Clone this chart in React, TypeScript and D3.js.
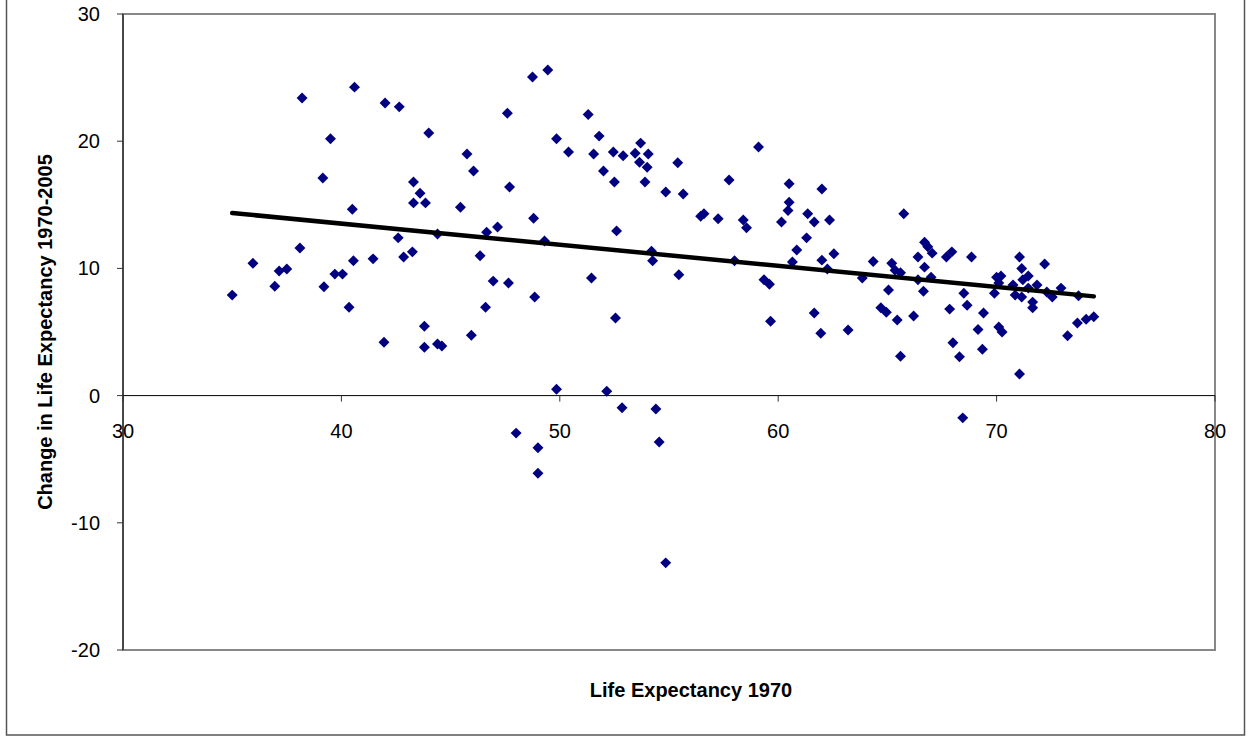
import React from "react";
import * as d3 from "d3";

// life expectancy in 1970 (x) and change 1970-2005 (y), one entry per country
const lifeExp1970 = [
  35.0, 35.95, 36.95, 37.15, 37.5, 38.1, 38.2, 39.15, 39.2, 39.5,
  39.7, 40.05, 40.35, 40.5, 40.55, 40.6, 41.45, 41.95, 42.0, 42.6,
  42.65, 42.85, 43.25, 43.3, 43.3, 43.6, 43.8, 43.8, 43.85, 44.0,
  44.4, 44.4, 44.6, 45.45, 45.75, 45.95, 46.05, 46.35, 46.6, 46.65,
  46.95, 47.15, 47.6, 47.65, 47.7, 48.0, 48.75, 48.8, 48.85, 49.0,
  49.0, 49.3, 49.45, 49.85, 49.85, 50.4, 51.3, 51.45, 51.55, 51.8,
  52.0, 52.15, 52.45, 52.5, 52.55, 52.6, 52.85, 52.9, 53.45, 53.65,
  53.7, 53.9, 54.0, 54.05, 54.2, 54.25, 54.4, 54.55, 54.85, 54.85,
  55.4, 55.45, 55.65, 56.45, 56.6, 57.25, 57.75, 58.0, 58.4, 58.55,
  59.1, 59.35, 59.6, 59.65, 60.15, 60.45, 60.5, 60.5, 60.65, 60.85,
  61.3, 61.35, 61.65, 61.65, 61.95, 62.0, 62.0, 62.25, 62.35, 62.55,
  63.2, 63.85, 64.35, 64.7, 64.95, 65.05, 65.2, 65.35, 65.45, 65.6,
  65.6, 65.75, 66.2, 66.4, 66.4, 66.65, 66.7, 66.7, 66.85, 67.0,
  67.05, 67.7, 67.85, 67.95, 68.0, 68.3, 68.45, 68.5, 68.65, 68.85,
  69.15, 69.35, 69.4, 69.9, 70.0, 70.1, 70.1, 70.2, 70.25, 70.75,
  70.85, 71.05, 71.05, 71.15, 71.15, 71.2, 71.45, 71.45, 71.65, 71.65,
  71.85, 72.2, 72.3, 72.55, 72.95, 73.25, 73.7, 73.75, 74.1, 74.45,
];
const lifeExpChange = [
  7.9, 10.4, 8.6, 9.8, 9.95, 11.6, 23.4, 17.1, 8.55, 20.2,
  9.55, 9.55, 6.95, 14.65, 10.6, 24.25, 10.75, 4.2, 23.0, 12.4,
  22.7, 10.9, 11.3, 16.8, 15.15, 15.9, 5.45, 3.8, 15.15, 20.65,
  4.05, 12.7, 3.9, 14.8, 19.0, 4.75, 17.65, 11.0, 6.95, 12.85,
  9.0, 13.25, 22.2, 8.85, 16.4, -2.95, 25.05, 13.95, 7.75, -4.1,
  -6.1, 12.15, 25.6, 20.2, 0.5, 19.15, 22.1, 9.25, 19.0, 20.4,
  17.65, 0.35, 19.15, 16.8, 6.1, 12.95, -0.95, 18.85, 19.05, 18.35,
  19.85, 16.8, 17.95, 19.0, 11.35, 10.6, -1.05, -3.65, 16.0, -13.15,
  18.3, 9.5, 15.85, 14.1, 14.3, 13.9, 16.95, 10.6, 13.8, 13.2,
  19.55, 9.1, 8.75, 5.85, 13.65, 14.55, 16.65, 15.2, 10.5, 11.45,
  12.4, 14.3, 13.65, 6.5, 4.9, 16.25, 10.65, 9.95, 13.8, 11.15,
  5.15, 9.25, 10.55, 6.9, 6.55, 8.3, 10.4, 9.85, 5.95, 9.65,
  3.1, 14.3, 6.25, 10.9, 9.1, 8.2, 12.05, 10.1, 11.7, 9.3,
  11.2, 10.9, 6.8, 11.3, 4.15, 3.05, -1.75, 8.05, 7.1, 10.9,
  5.2, 3.65, 6.5, 8.05, 9.3, 8.85, 5.4, 9.4, 5.0, 8.7,
  7.9, 1.7, 10.9, 10.0, 7.75, 9.1, 9.4, 8.45, 7.35, 6.9,
  8.7, 10.35, 8.15, 7.75, 8.45, 4.7, 5.7, 7.85, 6.0, 6.2,
];

const xTicks = [30, 40, 50, 60, 70, 80];
const yTicks = [-20, -10, 0, 10, 20, 30];

const W = 1251;
const H = 740;
const left = 123, right = 1215, top = 14, bottom = 650;
const font = "Arial, 'Liberation Sans', sans-serif";

export default function App() {
  const x = d3.scaleLinear().domain([30, 80]).range([left, right]);
  const y = d3.scaleLinear().domain([-20, 30]).range([bottom, top]);

  // least squares trendline
  const mx = d3.mean(lifeExp1970) as number;
  const my = d3.mean(lifeExpChange) as number;
  let sxy = 0, sxx = 0;
  lifeExp1970.forEach((v, i) => {
    sxy += (v - mx) * (lifeExpChange[i] - my);
    sxx += (v - mx) * (v - mx);
  });
  const slope = sxy / sxx;
  const icpt = my - slope * mx;
  const [x0, x1] = d3.extent(lifeExp1970) as [number, number];
  const trend = d3.line()([
    [x(x0), y(icpt + slope * x0)],
    [x(x1), y(icpt + slope * x1)],
  ]) as string;

  const diamond = d3.symbol(d3.symbolSquare, 60)() as string;

  return (
    <svg width={W} height={H} style={{ position: "absolute", left: 0, top: 0 }} fontFamily={font}>
      <rect x={0} y={0} width={W} height={H} fill="#fff" />
      <rect x={6.5} y={-2} width={1238} height={737} fill="none" stroke="#555" strokeWidth={1.5} />

      {/* plot area frame */}
      <rect x={left} y={top} width={right - left} height={bottom - top} fill="none" stroke="#888" strokeWidth={2} />
      <line x1={left} x2={left} y1={top} y2={bottom} stroke="#333" strokeWidth={1.5} />

      {/* y ticks */}
      {yTicks.map((t) => (
        <g key={"y" + t}>
          <line x1={left - 6} x2={left} y1={y(t)} y2={y(t)} stroke="#333" strokeWidth={1} />
          <text x={left - 23} y={y(t)} dy="0.35em" textAnchor="end" fontSize={20} fill="#000">
            {t}
          </text>
        </g>
      ))}

      {/* x axis at zero */}
      <line x1={left} x2={right} y1={y(0)} y2={y(0)} stroke="#000" strokeWidth={1} />
      {xTicks.map((t) => (
        <g key={"x" + t}>
          <line x1={x(t)} x2={x(t)} y1={y(0)} y2={y(0) + 6} stroke="#333" strokeWidth={1} />
          <text x={x(t)} y={y(0) + 42} textAnchor="middle" fontSize={20} fill="#000">
            {t}
          </text>
        </g>
      ))}

      {/* points */}
      {lifeExp1970.map((v, i) => (
        <path
          key={i}
          d={diamond}
          transform={`translate(${x(v)},${y(lifeExpChange[i])}) rotate(45)`}
          fill="#000080"
        />
      ))}

      <path d={trend} stroke="#000" strokeWidth={4.5} fill="none" strokeLinecap="round" />

      <text x={691} y={697} textAnchor="middle" fontSize={20} fontWeight="bold" fill="#000">
        Life Expectancy 1970
      </text>
      <text
        transform={`translate(52,${(top + bottom) / 2}) rotate(-90)`}
        textAnchor="middle"
        fontSize={20}
        fontWeight="bold"
        fill="#000"
      >
        Change in Life Expectancy 1970-2005
      </text>
    </svg>
  );
}
